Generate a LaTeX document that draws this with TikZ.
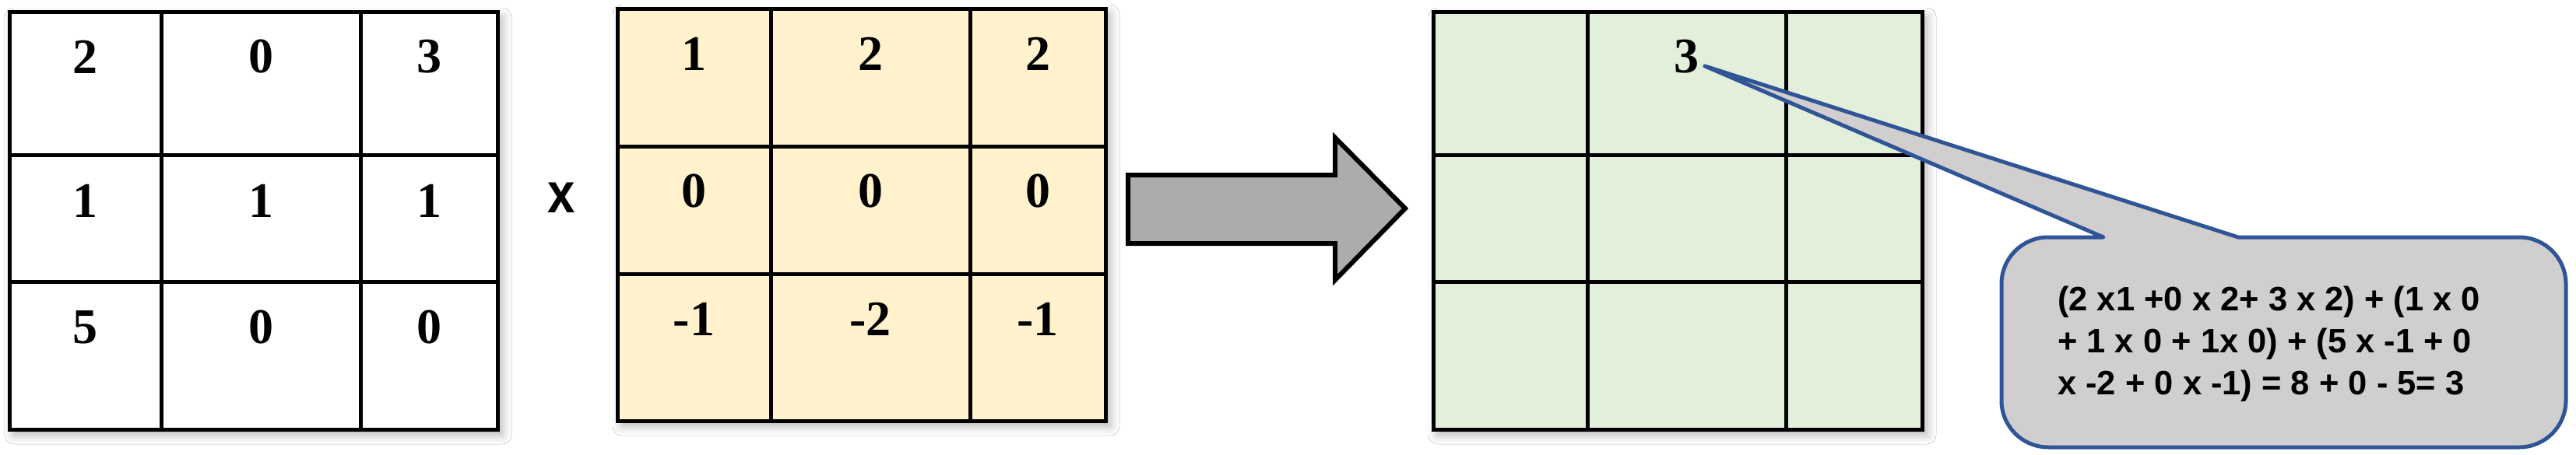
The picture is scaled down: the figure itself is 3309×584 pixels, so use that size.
\documentclass[tikz,border=0pt]{standalone}
\usepackage{fontspec}
\setmainfont{Liberation Serif}
\newfontfamily\sansf{Liberation Sans}
\usetikzlibrary{shadows.blur}
\definecolor{kfill}{HTML}{FFF2CC}
\definecolor{ofill}{HTML}{E2EFDA}
\definecolor{arrowfill}{HTML}{AEABAB}
\definecolor{callfill}{HTML}{D0CECE}
\definecolor{callline}{HTML}{2F5597}
\newcommand\mgrid[9]{%
  \fill[#1, gshadow] (#2,#6) rectangle (#5,#9);
  \draw[gridline] (#2,#6) rectangle (#5,#9)
     (#3,#6) -- (#3,#9) (#4,#6) -- (#4,#9)
     (#2,#7) -- (#5,#7) (#2,#8) -- (#5,#8);
}
\begin{document}
\begin{tikzpicture}[x=1pt,y=-1pt,
  gridline/.style={line width=5pt, draw=black, line join=miter},
  gshadow/.style={blur shadow={shadow xshift=6pt, shadow yshift=-7pt, shadow blur radius=12pt, shadow opacity=30}},
  num/.style={font=\bfseries\fontsize{64}{70}\selectfont, inner sep=0pt},
  timessign/.style={font=\sansf\bfseries\fontsize{73}{80}\selectfont, inner sep=0pt},
  bigarrow/.style={line width=6pt, draw=black, fill=arrowfill, line join=miter},
  callsty/.style={line width=5pt, draw=callline, fill=callfill, line join=round},
  formula/.style={font=\sansf\bfseries\fontsize{43.5}{54}\selectfont, align=left, inner sep=0pt}
]
\useasboundingbox (0,0) rectangle (3309,584);
\fill[white] (0,0) rectangle (3309,584);

% input matrix
\mgrid{white}{12}{207}{463}{639}{15}{199}{362}{552}
\node[num] (a11) at (109.5,73) {2};
\node[num] (a12) at (335,73) {0};
\node[num] (a13) at (551,73) {3};
\node[num] (a21) at (109.5,258) {1};
\node[num] (a22) at (335,258) {1};
\node[num] (a23) at (551,258) {1};
\node[num] (a31) at (109.5,421) {5};
\node[num] (a32) at (335,421) {0};
\node[num] (a33) at (551,421) {0};

% multiplication sign
\node[timessign] (times) at (721.5,254) {\scalebox{0.87}[1]{x}};

% kernel
\mgrid{kfill}{793}{990}{1246}{1420}{11}{188}{352}{541}
\node[num] (k11) at (891.5,69) {1};
\node[num] (k12) at (1118,69) {2};
\node[num] (k13) at (1333,69) {2};
\node[num] (k21) at (891.5,246) {0};
\node[num] (k22) at (1118,246) {0};
\node[num] (k23) at (1333,246) {0};
\node[num] (k31) at (891.5,410) {-1};
\node[num] (k32) at (1118,410) {-2};
\node[num] (k33) at (1333,410) {-1};

% block arrow
\draw[bigarrow] (1449,225) -- (1715,225) -- (1715,177) -- (1805,268)
  -- (1715,360) -- (1715,313) -- (1449,313) -- cycle;

% output matrix
\mgrid{ofill}{1841}{2039}{2294}{2469}{15}{199}{362}{552}
\node[num] (o12) at (2166.5,73) {3};

% callout
\coordinate (tip) at (2190,85);
\draw[callsty] (2702,305) -- (tip) -- (2875,305) -- (3236,305)
  arc[start angle=270, end angle=360, radius=60] -- (3296,515)
  arc[start angle=0, end angle=90, radius=60] -- (2631,575)
  arc[start angle=90, end angle=180, radius=60] -- (2571,365)
  arc[start angle=180, end angle=270, radius=60] -- cycle;
\node[formula, anchor=north west] (formula) at (2643,368)
  {(2 x1 +0 x 2+ 3 x 2) + (1 x 0\\+ 1 x 0 + 1x 0) + (5 x -1 + 0\\x -2 + 0 x -1) = 8 + 0 - 5= 3};
\end{tikzpicture}
\end{document}
